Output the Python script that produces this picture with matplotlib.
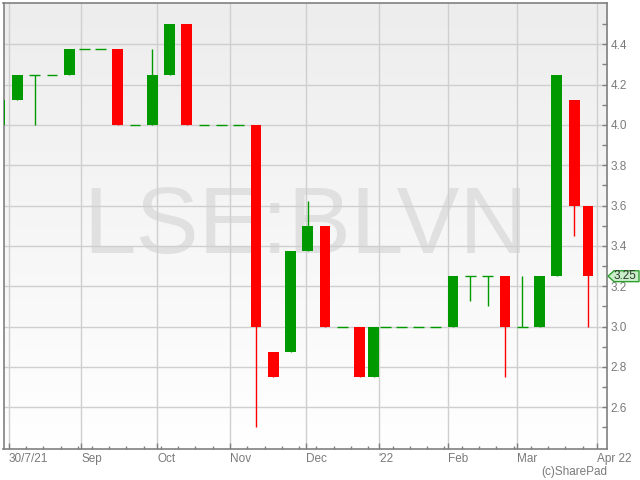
import numpy as np
import matplotlib.pyplot as plt
import matplotlib.transforms as mtransforms
from matplotlib.colors import LinearSegmentedColormap
from matplotlib.patches import Polygon
from matplotlib.ticker import FixedLocator, FormatStrFormatter

plt.rcParams['font.family'] = ['Liberation Sans', 'DejaVu Sans']

ticker_name = 'LSE:BLVN'

# weekly candles (week starting Monday)
weeks = ['2021-07-26', '2021-08-02', '2021-08-09', '2021-08-16', '2021-08-23',
         '2021-08-30', '2021-09-06', '2021-09-13', '2021-09-20', '2021-09-27',
         '2021-10-04', '2021-10-11', '2021-10-18', '2021-10-25', '2021-11-01',
         '2021-11-08', '2021-11-15', '2021-11-22', '2021-11-29', '2021-12-06',
         '2021-12-13', '2021-12-20', '2021-12-27', '2022-01-03', '2022-01-10',
         '2022-01-17', '2022-01-24', '2022-01-31', '2022-02-07', '2022-02-14',
         '2022-02-21', '2022-02-28', '2022-03-07', '2022-03-14', '2022-03-21',
         '2022-03-28']
opens = [4.0, 4.125, 4.25, 4.25, 4.25, 4.375, 4.375, 4.375, 4.0, 4.0,
         4.25, 4.5, 4.0, 4.0, 4.0, 4.0, 2.875, 2.875, 3.375, 3.5,
         3.0, 3.0, 2.75, 3.0, 3.0, 3.0, 3.0, 3.0, 3.25, 3.25,
         3.25, 3.0, 3.0, 3.25, 4.125, 3.6]
highs = [4.125, 4.25, 4.25, 4.25, 4.375, 4.375, 4.375, 4.375, 4.0, 4.375,
         4.5, 4.5, 4.0, 4.0, 4.0, 4.0, 2.875, 3.375, 3.625, 3.5,
         3.0, 3.0, 3.0, 3.0, 3.0, 3.0, 3.0, 3.25, 3.25, 3.25,
         3.25, 3.25, 3.25, 4.25, 4.125, 3.6]
lows = [4.0, 4.125, 4.0, 4.25, 4.25, 4.375, 4.375, 4.0, 4.0, 4.0,
        4.25, 4.0, 4.0, 4.0, 4.0, 2.5, 2.75, 2.875, 3.375, 3.0,
        3.0, 2.75, 2.75, 3.0, 3.0, 3.0, 3.0, 3.0, 3.125, 3.1,
        2.75, 3.0, 3.0, 3.25, 3.45, 3.0]
closes = [4.125, 4.25, 4.25, 4.25, 4.375, 4.375, 4.375, 4.0, 4.0, 4.25,
          4.5, 4.0, 4.0, 4.0, 4.0, 3.0, 2.75, 3.375, 3.5, 3.0,
          3.0, 2.75, 3.0, 3.0, 3.0, 3.0, 3.0, 3.25, 3.25, 3.25,
          3.0, 3.0, 3.25, 4.25, 3.6, 3.25]

first_day = '2021-07-30'
end_day = '2022-03-31'  # exclusive
uk_holidays = ['2021-08-30', '2021-12-27', '2021-12-28', '2022-01-03']

tick_dates = ['2021-08-02', '2021-09-01', '2021-10-01', '2021-11-01', '2021-12-01',
              '2022-01-01', '2022-02-01', '2022-03-01', '2022-04-01']
tick_labels = ['30/7/21', 'Sep', 'Oct', 'Nov', 'Dec', "'22", 'Feb', 'Mar', 'Apr 22']


def tday(d):
    # trading day index counted from the first day
    return np.busday_count(first_day, d, holidays=uk_holidays)


week_start = np.array(weeks, dtype='datetime64[D]')
week_end = np.minimum(week_start + 7, np.datetime64(end_day))
ndays = np.busday_count(week_start, week_end, holidays=uk_holidays)
x = tday(week_start) + ndays / 2

o = np.array(opens)
h = np.array(highs)
l = np.array(lows)
c = np.array(closes)
colors = np.where(c >= o, '#009900', '#ff0000')
flat = c == o
w = 3.1

fig = plt.figure(figsize=(6.4, 4.8), dpi=100)
ax = fig.add_axes([3.5 / 640, 31 / 480, 603.5 / 640, 446 / 480])

bg = LinearSegmentedColormap.from_list('bg', ['#ffffff', '#ededed'])
ax.imshow(np.linspace(0, 1, 256).reshape(-1, 1), cmap=bg, aspect='auto', origin='lower',
          extent=[0, 1, 0, 1], transform=ax.transAxes, zorder=0)
ax.text(0.5, 0.44, ticker_name, transform=ax.transAxes, ha='center', va='baseline',
        fontsize=68, color='#e0e0e0', zorder=0.3)

ax.vlines(x, l, h, colors=colors, lw=1, zorder=2)
ax.bar(x[~flat], (c - o)[~flat], bottom=o[~flat], width=w, color=colors[~flat],
       linewidth=0, zorder=3)
ax.hlines(c[flat], x[flat] - w / 2, x[flat] + w / 2, colors=colors[flat], lw=1, zorder=3)

ax.set_xlim(-0.5, 174.0)
ax.set_ylim(2.393, 4.605)

ax.xaxis.set_major_locator(FixedLocator(tday(np.array(tick_dates, dtype='datetime64[D]'))))
ax.set_xticklabels(tick_labels, ha='left')
ax.xaxis.set_minor_locator(FixedLocator(tday(week_start)))
first_lbl = ax.get_xticklabels()[0]
first_lbl.set_transform(first_lbl.get_transform() +
                        mtransforms.ScaledTranslation(-7 / 100, 0, fig.dpi_scale_trans))

ax.yaxis.tick_right()
ax.yaxis.set_major_locator(FixedLocator(np.arange(2.6, 4.45, 0.2)))
ax.yaxis.set_minor_locator(FixedLocator(np.arange(2.5, 4.55, 0.2)))
ax.yaxis.set_major_formatter(FormatStrFormatter('%.1f'))

ax.tick_params(axis='both', which='both', direction='in', colors='#808080',
               labelcolor='#7a7a7a', labelsize=8.5, width=1)
ax.tick_params(axis='x', which='major', length=4.5, pad=3)
ax.tick_params(axis='x', which='minor', length=2.5)
ax.tick_params(axis='y', which='both', length=3.6, pad=2.5)

ax.grid(True, which='major', color='#cfcfcf', lw=1)
ax.set_axisbelow(True)
for s in ax.spines.values():
    s.set_color('#808080')
    s.set_linewidth(1.2)

# last price marker on the right axis
tr = mtransforms.blended_transform_factory(fig.transFigure, ax.transData)
last = c[-1]
hh = 0.027
marker = Polygon([(608 / 640, last), (614 / 640, last + hh), (639 / 640, last + hh),
                  (639 / 640, last - hh), (614 / 640, last - hh)], closed=True,
                 transform=tr, facecolor='#c9efc9', edgecolor='#2e9e2e', lw=1,
                 clip_on=False, zorder=10)
ax.add_patch(marker)
ax.text(625 / 640, last, '%.2f' % last, transform=tr, ha='center', va='center',
        fontsize=8.5, color='#333333', clip_on=False, zorder=11)

fig.text(607 / 640, 8 / 480, '(c)SharePad', ha='right', va='center',
         fontsize=8.5, color='#7a7a7a')

fig.savefig('out.png', dpi=100, facecolor='white')
